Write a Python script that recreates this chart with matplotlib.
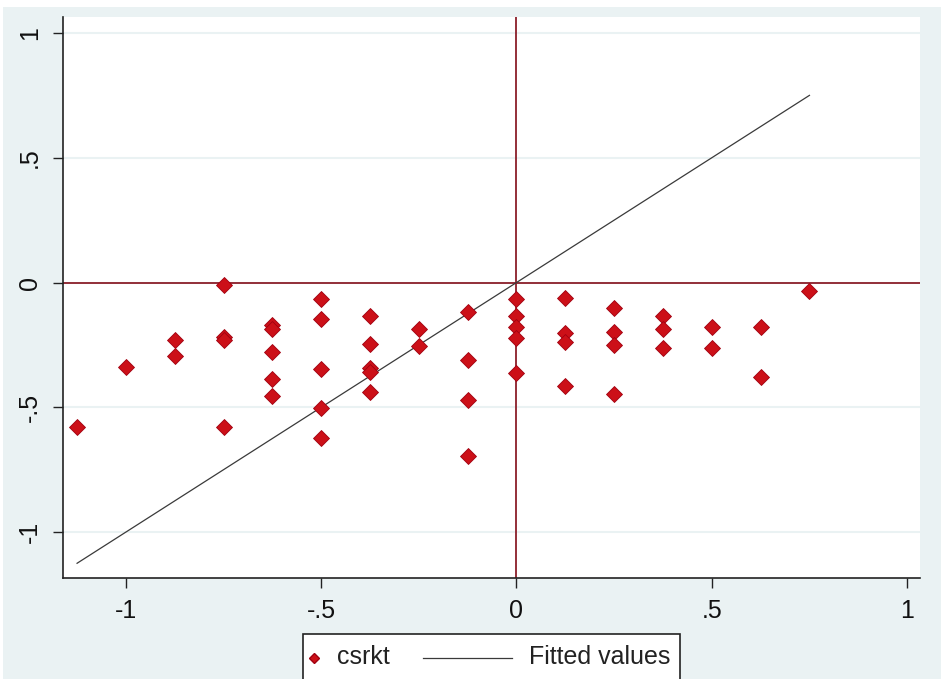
import matplotlib.pyplot as plt
from matplotlib.lines import Line2D
from matplotlib.patches import Rectangle

# scatter data (csrkt)
x_vals = [-1.125,
          -1.0,
          -0.875, -0.875,
          -0.75, -0.75, -0.75, -0.75,
          -0.625, -0.625, -0.625, -0.625, -0.625,
          -0.5, -0.5, -0.5, -0.5, -0.5,
          -0.375, -0.375, -0.375, -0.375, -0.375,
          -0.25, -0.25,
          -0.125, -0.125, -0.125, -0.125,
          0.0, 0.0, 0.0, 0.0, 0.0,
          0.125, 0.125, 0.125, 0.125,
          0.25, 0.25, 0.25, 0.25,
          0.375, 0.375, 0.375,
          0.5, 0.5,
          0.625, 0.625,
          0.75]
y_vals = [-0.58,
          -0.339,
          -0.229, -0.296,
          -0.008, -0.219, -0.229, -0.58,
          -0.169, -0.186, -0.278, -0.387, -0.456,
          -0.068, -0.145, -0.345, -0.503, -0.624,
          -0.135, -0.245, -0.341, -0.36, -0.439,
          -0.186, -0.253,
          -0.119, -0.312, -0.47, -0.697,
          -0.068, -0.135, -0.178, -0.222, -0.363,
          -0.062, -0.202, -0.24, -0.414,
          -0.102, -0.2, -0.249, -0.446,
          -0.133, -0.186, -0.262,
          -0.178, -0.262,
          -0.178, -0.379,
          -0.035]

# fitted line end points
fit_x = [-1.125, 0.75]
fit_y = [-1.125, 0.75]

ticks = [-1, -0.5, 0, 0.5, 1]
tick_labels = ["-1", "-.5", "0", ".5", "1"]
legend_labels = ["csrkt", "Fitted values"]

bg = "#eaf2f3"
red = "#cc1018"
maroon = "#8b1f2a"
W, H = 941, 679

plt.rcParams['font.family'] = ['Liberation Sans', 'DejaVu Sans']

fig = plt.figure(figsize=(W / 100, H / 100), dpi=100, facecolor=bg)


def px(x, y):
    # pixel position (from top left) -> figure fraction
    return x / W, 1 - y / H


# thin white border of the screenshot
fig.patches.append(Rectangle((0, 1 - 7 / H), 1, 7 / H, transform=fig.transFigure,
                             facecolor="white", edgecolor="none", zorder=0))
fig.patches.append(Rectangle((0, 0), 3 / W, 1, transform=fig.transFigure,
                             facecolor="white", edgecolor="none", zorder=0))

ax = fig.add_axes([63 / W, 101 / H, 857 / W, 561 / H])
ax.set_facecolor("white")

ax.set_xlim(-1.161, 1.033)
ax.set_ylim(-1.184, 1.064)

for t in ticks:
    ax.axhline(t, color=bg, lw=1.5, zorder=0)

ax.axhline(0, color=maroon, lw=1.3, zorder=1)
ax.axvline(0, color=maroon, lw=1.3, zorder=1)

ax.plot(fit_x, fit_y, color="#3a3a3a", lw=0.9, zorder=2)
ax.plot(x_vals, y_vals, ls="none", marker="D", ms=7.8, mfc=red, mec="#a00010",
        mew=0.6, zorder=3)

ax.set_xticks(ticks)
ax.set_xticklabels(tick_labels)
ax.set_yticks(ticks)
ax.set_yticklabels(tick_labels, rotation=90, va="center")
ax.tick_params(axis="both", length=7, width=1, color="#222222", labelsize=18,
               labelcolor="#111111", pad=8)

for side in ["top", "right"]:
    ax.spines[side].set_visible(False)
for side in ["left", "bottom"]:
    ax.spines[side].set_color("#222222")
    ax.spines[side].set_linewidth(1.2)

# legend box (bottom edge is cut off by the image border, as in the original)
x0, y0 = px(303, 634)
fig.patches.append(Rectangle((x0, y0 - 60 / H), (680 - 303) / W, 60 / H,
                             transform=fig.transFigure, facecolor="white",
                             edgecolor="#222222", lw=1.2, zorder=5))
mx, my = px(314, 658)
fig.add_artist(Line2D([mx], [my], transform=fig.transFigure, ls="none", marker="D",
                      ms=5, mfc=red, mec="#a00010", zorder=6))
tx, ty = px(337, 657)
fig.text(tx, ty, legend_labels[0], fontsize=18, va="center", ha="left",
         color="#222222", zorder=6)
lx0, ly = px(423, 658)
lx1, _ = px(512, 658)
fig.add_artist(Line2D([lx0, lx1], [ly, ly], transform=fig.transFigure,
                      color="#3a3a3a", lw=0.9, zorder=6))
tx2, _ = px(529, 657)
fig.text(tx2, ty, legend_labels[1], fontsize=18, va="center", ha="left",
         color="#222222", zorder=6)

fig.savefig("out.png", dpi=100, facecolor=bg)
